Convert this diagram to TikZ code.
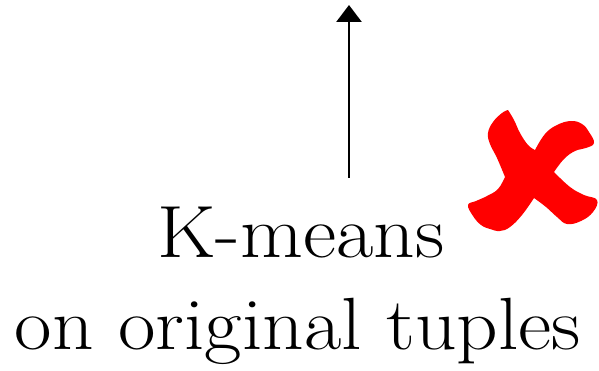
\documentclass[tikz,border=0pt]{standalone}
\usetikzlibrary{arrows.meta}
\begin{document}
\begin{tikzpicture}[x=1pt,y=-1pt,
  lbl/.style={font=\fontsize{74}{80}\selectfont, inner sep=0pt, align=center, xscale=1.1},
  arr/.style={line width=2.8pt, -{Triangle[length=17pt,width=25pt]}},
  cross/.style={fill=red, draw=none}]
\useasboundingbox (0,0) rectangle (599,371);
\node[lbl, anchor=base] (t1) at (301,258) {K-means};
\node[lbl, anchor=base] (t2) at (298,349) {on original tuples};
\coordinate (top) at (349,5);
\coordinate (bot) at (349,178);
\draw[arr] (bot) -- (top);
\path[cross]
  plot[smooth, tension=0.7] coordinates {(508,110) (514,120) (520,133) (528,145) (535,150)}
  -- plot[smooth, tension=0.7] coordinates {(535,150) (545,134) (557,125) (571,121) (582,124) (589,132) (594,143) (586,148) (575,151) (564,159) (554,172)}
  -- plot[smooth, tension=0.7] coordinates {(554,172) (570,187) (584,195) (597,200) (593,212) (581,221) (567,224) (557,217) (546,207) (534,198)}
  -- plot[smooth, tension=0.7] coordinates {(534,198) (522,215) (510,227) (500,231) (490,229) (481,225) (473,216) (468,205) (476,201) (487,196) (498,189) (505,177)}
  -- plot[smooth, tension=0.7] coordinates {(505,177) (497,158) (490,144) (488,133) (493,122) (502,113) (508,110)}
  -- cycle;
\end{tikzpicture}
\end{document}
